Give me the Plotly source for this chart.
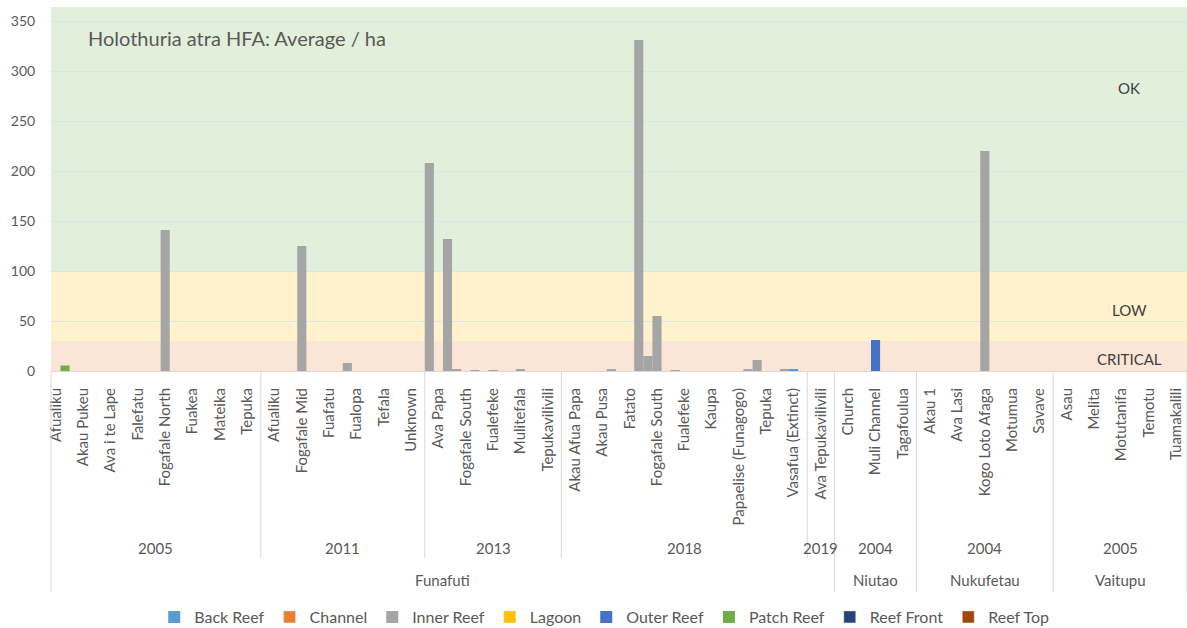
import plotly.graph_objects as go

# Sites on the category axis, with the survey year and island of each one
sites = [
    "Afualiku", "Akau Pukeu", "Ava i te Lape", "Falefatu", "Fogafale North",
    "Fuakea", "Mateika", "Tepuka",
    "Afualiku", "Fogafale Mid", "Fuafatu", "Fualopa", "Tefala", "Unknown",
    "Ava Papa", "Fogafale South", "Fualefeke", "Mulitefala", "Tepukavilivili",
    "Akau Afua Papa", "Akau Pusa", "Fatato", "Fogafale South", "Fualefeke",
    "Kaupa", "Papaelise (Funagogo)", "Tepuka", "Vasafua (Extinct)",
    "Ava Tepukavilivili",
    "Church", "Muli Channel", "Tagafoulua",
    "Akau 1", "Ava Lasi", "Kogo Loto Afaga", "Motumua", "Savave",
    "Asau", "Melita", "Motutanifa", "Temotu", "Tuamakalili",
]
years = (["2005"] * 8 + ["2011"] * 6 + ["2013"] * 5 + ["2018"] * 9 + ["2019"]
         + ["2004"] * 3 + ["2004"] * 5 + ["2005"] * 5)
islands = (["Funafuti"] * 29 + ["Niutao"] * 3 + ["Nukufetau"] * 5
           + ["Vaitupu"] * 5)

habitats = ["Back Reef", "Channel", "Inner Reef", "Lagoon", "Outer Reef",
            "Patch Reef", "Reef Front", "Reef Top"]
habitat_colors = ["#5B9BD5", "#ED7D31", "#A5A5A5", "#FFC000", "#4472C4",
                  "#70AD47", "#264478", "#9E480E"]

_ = None
# Average Holothuria atra per hectare; each site holds up to three station
# averages (a, b, c), drawn side by side within the site's slot.
inner_reef_a = [_, _, _, _, _, _, _, _,
                _, _, _, 8, _, _,
                208, 1.5, _, _, _,
                _, _, _, 15, 1, _, _, 11, 1.5,
                _,
                _, _, _,
                _, _, _, _, _,
                _, _, _, _, _]
inner_reef_b = [_, _, _, _, 141, _, _, _,
                _, 125, _, _, _, _,
                _, _, 1, 1.5, _,
                _, _, _, 55, _, _, _, _, _,
                _,
                _, _, _,
                _, _, 220, _, _,
                _, _, _, _, _]
inner_reef_c = [_, _, _, _, _, _, _, _,
                _, _, _, _, _, _,
                132, 1, _, _, _,
                _, 1.5, 331, _, _, _, 1.5, _, _,
                _,
                _, _, _,
                _, _, _, _, _,
                _, _, _, _, _]
back_reef_b = [_] * 27 + [2] + [_] * 14
outer_reef_b = [_] * 30 + [31] + [_] * 11
patch_reef_c = [5.5] + [_] * 41

station_values = {
    "Back Reef": [None, back_reef_b, None],
    "Inner Reef": [inner_reef_a, inner_reef_b, inner_reef_c],
    "Outer Reef": [None, outer_reef_b, None],
    "Patch Reef": [None, None, patch_reef_c],
}

# Status bands (lower bound, upper bound, label)
band_limits = [0, 30, 100]
band_labels = ["CRITICAL", "LOW", "OK"]
y_ticks = [0, 50, 100, 150, 200, 250, 300, 350]

TEXT = "#595959"
FONT = "Lato"
W, H = 1187, 628
M_L, M_R, M_T, M_B = 51, 0, 7, 257
Y_TOP = 364
X_LO, X_HI = -0.18, 41.4
plot_h = H - M_T - M_B

x_idx = list(range(len(sites)))
fig = go.Figure()

n_st = 3
for hab, color in zip(habitats, habitat_colors):
    cols = station_values.get(hab)
    shown = False
    if cols is None:
        fig.add_trace(go.Bar(x=x_idx, y=[None] * len(sites), name=hab,
                             marker_color=color, legendgroup=hab,
                             width=1 / n_st, offset=-0.5))
        continue
    for s, vals in enumerate(cols):
        if vals is None:
            continue
        fig.add_trace(go.Bar(
            x=x_idx, y=vals, name=hab, marker_color=color,
            marker_line_width=0, legendgroup=hab, showlegend=not shown,
            width=1 / n_st, offset=-0.5 + s / n_st,
        ))
        shown = True

band_colors = ["#FBE5D6", "#FFF2CC", "#E2EFDA"]
shapes = []
bounds = band_limits + [Y_TOP]
for i, c in enumerate(band_colors):
    shapes.append(dict(type="rect", xref="paper", yref="y", x0=0, x1=1,
                       y0=bounds[i], y1=bounds[i + 1], fillcolor=c,
                       line_width=0, layer="below"))


def py(pix_y):
    # paper coordinate for a pixel row of the page
    return (H - M_B - pix_y) / plot_h


year_bottom = py(558)
island_bottom = py(592)
year_text_y = py(548)
island_text_y = py(580)

# Runs of consecutive sites sharing island/year, and islands alone
def runs(keys):
    out, start = [], 0
    for i in range(1, len(keys) + 1):
        if i == len(keys) or keys[i] != keys[start]:
            out.append((start, i - 1, keys[start]))
            start = i
    return out


year_runs = runs(list(zip(islands, years)))
island_runs = runs(islands)
island_starts = {r[0] for r in island_runs}

line_style = dict(color="#D9D9D9", width=1)
for start, end, key in year_runs:
    if start > 0:
        y1 = island_bottom if start in island_starts else year_bottom
        shapes.append(dict(type="line", xref="x", yref="paper",
                           x0=start - 0.5, x1=start - 0.5, y0=0, y1=y1,
                           line=line_style))
for xp in (0, 1):
    shapes.append(dict(type="line", xref="paper", yref="paper", x0=xp, x1=xp,
                       y0=0, y1=island_bottom, line=line_style))

label_font = dict(family=FONT, size=15, color=TEXT)
annotations = []
for start, end, key in year_runs:
    lo, hi = max(start - 0.5, X_LO), min(end + 0.5, X_HI)
    annotations.append(dict(x=(lo + hi) / 2, y=year_text_y, xref="x",
                            yref="paper", text=key[1], showarrow=False,
                            xanchor="center", yanchor="middle",
                            font=label_font))
for start, end, key in island_runs:
    lo, hi = max(start - 0.5, X_LO), min(end + 0.5, X_HI)
    annotations.append(dict(x=(lo + hi) / 2, y=island_text_y, xref="x",
                            yref="paper", text=key, showarrow=False,
                            xanchor="center", yanchor="middle",
                            font=label_font))

band_text_y = [12, 61, 283]
for lab, yv in zip(band_labels, band_text_y):
    annotations.append(dict(x=0.949, y=yv, xref="paper", yref="y", text=lab,
                            showarrow=False, xanchor="center",
                            yanchor="middle",
                            font=dict(family=FONT, size=15, color="#404040")))

annotations.append(dict(x=0.031, y=333, xref="paper", yref="y",
                        xanchor="left", yanchor="middle",
                        text="Holothuria atra HFA: Average / ha",
                        showarrow=False,
                        font=dict(family=FONT, size=20, color=TEXT)))

fig.update_layout(
    width=W, height=H,
    margin=dict(l=M_L, r=M_R, t=M_T, b=M_B, autoexpand=False),
    barmode="overlay",
    plot_bgcolor="white", paper_bgcolor="white",
    shapes=shapes, annotations=annotations,
    xaxis=dict(range=[X_LO, X_HI], tickvals=x_idx, ticktext=sites,
               tickangle=-90, showgrid=False, zeroline=False,
               showline=True, linecolor="#D9D9D9", linewidth=1,
               ticks="outside", ticklen=10, tickcolor="rgba(0,0,0,0)",
               tickfont=dict(family=FONT, size=15, color=TEXT),
               automargin=False, fixedrange=True),
    yaxis=dict(range=[0, Y_TOP], tickvals=y_ticks, showgrid=True,
               gridcolor="#D8E4EE", gridwidth=1, zeroline=False,
               ticks="outside", ticklen=12, tickcolor="rgba(0,0,0,0)",
               tickfont=dict(family=FONT, size=14, color=TEXT),
               automargin=False, fixedrange=True),
    legend=dict(orientation="h", x=0.487, xanchor="center", y=py(617),
                yanchor="middle", font=dict(family=FONT, size=16, color=TEXT),
                itemwidth=30, traceorder="normal"),
    showlegend=True,
)

fig.write_html("out.html")
